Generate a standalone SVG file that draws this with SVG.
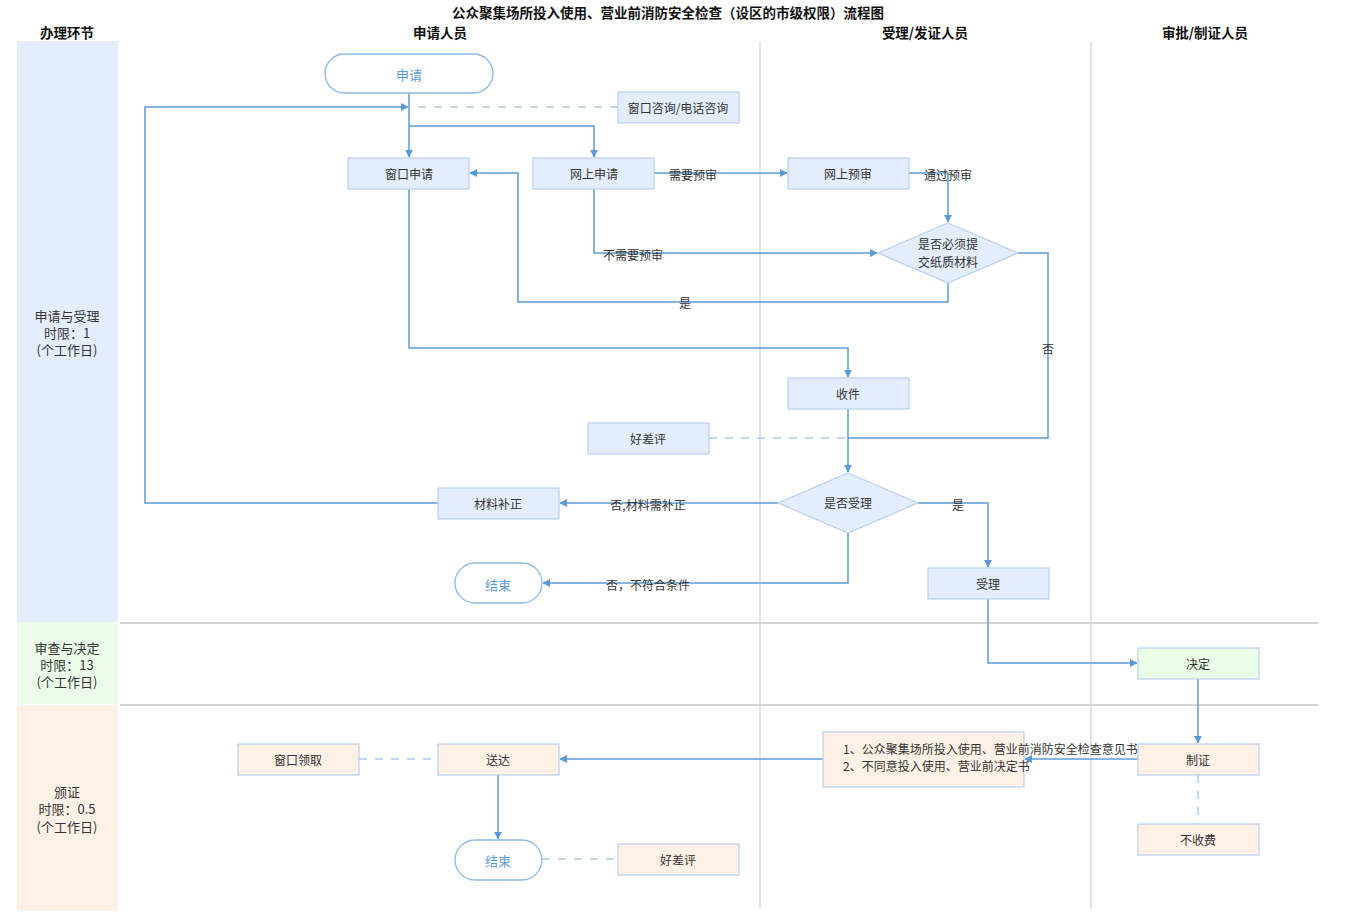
<svg xmlns="http://www.w3.org/2000/svg" width="1350" height="913" viewBox="0 0 1350 913">
<defs>
<marker id="arr" viewBox="0 0 10 10" refX="9" refY="5" markerWidth="8" markerHeight="8" markerUnits="userSpaceOnUse" orient="auto">
<path d="M0,0 L10,5 L0,10 z" fill="#5b9bd5"/>
</marker>
<style>
text{font-family:"Noto Sans CJK SC","Liberation Sans",sans-serif;font-size:12px;fill:#333;text-anchor:middle;dominant-baseline:central}
.hd{font-weight:bold;font-size:13.5px;fill:#111}
.lane{font-size:13px}
.box{fill:#e3edfb;stroke:#b9d1f0;stroke-width:1.2}
.boxo{fill:#fff1e5;stroke:#b9d1f0;stroke-width:1.2}
.boxg{fill:#eafde6;stroke:#b9d1f0;stroke-width:1.2}
.pill{fill:#fff;stroke:#8db8e8;stroke-width:1.3}
.pt{fill:#5b9bd5;font-size:13px}
.ln{fill:none;stroke:#5b9bd5;stroke-width:1.5}
.ar{marker-end:url(#arr)}
.ds{fill:none;stroke:#a9c9ee;stroke-width:1.5;stroke-dasharray:8,8}
.sep{stroke:#d9d9d9;stroke-width:1.5}
.hsep{stroke:#d4d4d4;stroke-width:2}
.lbl{font-size:12px;fill:#333}
</style>
</defs>
<rect width="1350" height="913" fill="#fff"/>
<g id="lanes">
<rect x="17" y="41" width="101" height="581" fill="#e3edfd"/>
<rect x="17" y="622" width="101" height="82" fill="#ebfde8"/>
<rect x="17" y="705" width="101" height="206" fill="#fff1e6"/>
<line class="sep" x1="760" y1="42" x2="760" y2="908"/>
<line class="sep" x1="1091" y1="42" x2="1091" y2="908"/>
<line class="hsep" x1="120" y1="623" x2="1318" y2="623"/>
<line class="hsep" x1="120" y1="705" x2="1318" y2="705"/>
<text class="hd" x="668" y="12">公众聚集场所投入使用、营业前消防安全检查（设区的市级权限）流程图</text>
<text class="hd" x="67" y="32">办理环节</text>
<text class="hd" x="440" y="32">申请人员</text>
<text class="hd" x="925" y="32">受理/发证人员</text>
<text class="hd" x="1205" y="32">审批/制证人员</text>
<text class="lane" x="67" y="315">申请与受理</text>
<text class="lane" x="67" y="332">时限：1</text>
<text class="lane" x="67" y="349">(个工作日)</text>
<text class="lane" x="67" y="647">审查与决定</text>
<text class="lane" x="67" y="664">时限：13</text>
<text class="lane" x="67" y="681">(个工作日)</text>
<text class="lane" x="67" y="791">颁证</text>
<text class="lane" x="67" y="808">时限：0.5</text>
<text class="lane" x="67" y="826">(个工作日)</text>
</g>
<g id="connectors">
<path class="ln ar" d="M409,93 L409,157"/>
<path class="ln ar" d="M409,126 L594,126 L594,157"/>
<path class="ds" d="M618,107 L413,107"/>
<path class="ln ar" d="M438,503 L145,503 L145,107 L408,107"/>
<path class="ln ar" d="M654,173 L787,173"/>
<path class="ln ar" d="M909,173 L948,173 L948,222"/>
<path class="ln ar" d="M594,189 L594,253 L877,253"/>
<path class="ln ar" d="M948,283 L948,302 L518,302 L518,173 L470,173"/>
<path class="ln" d="M1018,253 L1048,253 L1048,438 L848,438"/>
<path class="ln ar" d="M409,189 L409,348 L848,348 L848,377"/>
<path class="ln ar" d="M848,409 L848,472"/>
<path class="ds" d="M709,438 L848,438"/>
<path class="ln ar" d="M778,503 L560,503"/>
<path class="ln ar" d="M918,503 L988,503 L988,567"/>
<path class="ln ar" d="M848,533 L848,583 L543,583"/>
<path class="ln ar" d="M988,599 L988,663 L1137,663"/>
<path class="ln ar" d="M1198,679 L1198,743"/>
<path class="ln ar" d="M1138,759 L1025,759"/>
<path class="ln ar" d="M823,759 L560,759"/>
<path class="ln ar" d="M498,775 L498,839"/>
<path class="ds" d="M359,759 L438,759"/>
<path class="ds" d="M542,859 L618,859"/>
<path class="ds" d="M1198,775 L1198,824"/>
<text class="lbl" x="693" y="174">需要预审</text>
<text class="lbl" x="948" y="174">通过预审</text>
<text class="lbl" x="633" y="254">不需要预审</text>
<text class="lbl" x="685" y="302">是</text>
<text class="lbl" x="1048" y="348">否</text>
<text class="lbl" x="648" y="504">否,材料需补正</text>
<text class="lbl" x="958" y="504">是</text>
<text class="lbl" x="648" y="584">否，不符合条件</text>
</g>
<g id="n_apply"><rect class="pill" x="325" y="54" width="168" height="39" rx="19.5"/><text class="pt" x="409" y="74">申请</text></g>
<g id="n_consult"><rect class="box" x="618" y="92" width="121" height="31"/><text x="678" y="107">窗口咨询/电话咨询</text></g>
<g id="n_window"><rect class="box" x="348" y="158" width="121" height="31"/><text x="409" y="173">窗口申请</text></g>
<g id="n_online"><rect class="box" x="533" y="158" width="121" height="31"/><text x="594" y="173">网上申请</text></g>
<g id="n_precheck"><rect class="box" x="788" y="158" width="121" height="31"/><text x="848" y="173">网上预审</text></g>
<g id="n_paper"><polygon class="box" points="948,223 1018,253 948,283 878,253"/><text x="948" y="243">是否必须提</text><text x="948" y="261">交纸质材料</text></g>
<g id="n_receive"><rect class="box" x="788" y="378" width="121" height="31"/><text x="848" y="393">收件</text></g>
<g id="n_eval1"><rect class="box" x="588" y="423" width="121" height="31"/><text x="648" y="438">好差评</text></g>
<g id="n_accept_q"><polygon class="box" points="848,473 918,503 848,533 778,503"/><text x="848" y="502">是否受理</text></g>
<g id="n_supp"><rect class="box" x="438" y="488" width="121" height="31"/><text x="498" y="503">材料补正</text></g>
<g id="n_end1"><rect class="pill" x="455" y="563" width="87" height="40" rx="20"/><text class="pt" x="498" y="584">结束</text></g>
<g id="n_accept"><rect class="box" x="928" y="568" width="121" height="31"/><text x="988" y="583">受理</text></g>
<g id="n_decide"><rect class="boxg" x="1138" y="648" width="121" height="31"/><text x="1198" y="663">决定</text></g>
<g id="n_make"><rect class="boxo" x="1138" y="744" width="121" height="31"/><text x="1198" y="759">制证</text></g>
<g id="n_nofee"><rect class="boxo" x="1138" y="824" width="121" height="31"/><text x="1198" y="839">不收费</text></g>
<g id="n_docs"><rect class="boxo" x="823" y="732" width="201" height="55"/><text x="843" y="748" style="text-anchor:start">1、公众聚集场所投入使用、营业前消防安全检查意见书</text><text x="843" y="765" style="text-anchor:start">2、不同意投入使用、营业前决定书</text></g>
<g id="n_deliver"><rect class="boxo" x="438" y="744" width="121" height="31"/><text x="498" y="759">送达</text></g>
<g id="n_pickup"><rect class="boxo" x="238" y="744" width="121" height="31"/><text x="298" y="759">窗口领取</text></g>
<g id="n_end2"><rect class="pill" x="455" y="840" width="87" height="40" rx="20"/><text class="pt" x="498" y="860">结束</text></g>
<g id="n_eval2"><rect class="boxo" x="618" y="844" width="121" height="31"/><text x="678" y="859">好差评</text></g>
</svg>
